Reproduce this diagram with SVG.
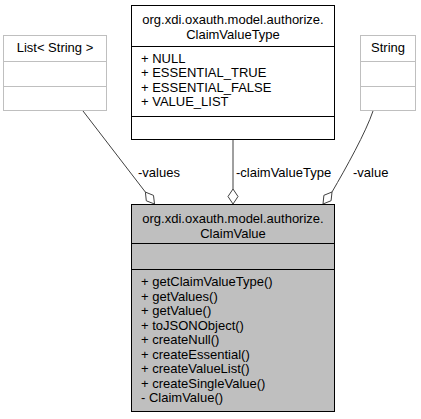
<svg xmlns="http://www.w3.org/2000/svg" width="421" height="419" viewBox="0 0 421 419">
<style>
text{font-family:"Liberation Sans",Arial,sans-serif;font-size:13px;fill:#000}
.c{text-anchor:middle}
.box{fill:#fff;stroke:#000;stroke-width:1}
.main{fill:#bfbfbf;stroke:#000;stroke-width:1}
.ext{fill:#fff;stroke:#bfbfbf;stroke-width:1}
.sep{stroke:#000;stroke-width:1}
.esep{stroke:#bfbfbf;stroke-width:1}
.edge{fill:none;stroke:#404040;stroke-width:1}
.dia{fill:#fff;stroke:#404040;stroke-width:1}
</style>
<rect width="421" height="419" fill="#fff"/>
<g id="edges">
<path class="edge" d="M83,111 L145.4,192.1"/>
<polygon class="dia" points="154.5,204 153.5,195.4 145.4,192.1 146.3,200.8"/>
<text x="138" y="176.5">-values</text>
<path class="edge" d="M233,140 L233,189"/>
<polygon class="dia" points="233,204 238,196.5 233,189 228,196.5"/>
<text x="236" y="176.5">-claimValueType</text>
<path class="edge" d="M373,111 C366,132 346,168 332,192"/>
<polygon class="dia" points="323,204 331.1,200.7 332,192 323.9,195.3"/>
<text x="353" y="176.5">-value</text>
</g>
<g id="ClaimValueType">
<rect class="box" x="131.5" y="5.5" width="203" height="134"/>
<line class="sep" x1="131.5" y1="46.5" x2="334.5" y2="46.5"/>
<line class="sep" x1="131.5" y1="116.5" x2="334.5" y2="116.5"/>
<text class="c" x="233" y="24">org.xdi.oxauth.model.authorize.</text>
<text class="c" x="233" y="38.5">ClaimValueType</text>
<text x="141" y="62.5">+ NULL</text>
<text x="141" y="77">+ ESSENTIAL_TRUE</text>
<text x="141" y="91.5">+ ESSENTIAL_FALSE</text>
<text x="141" y="106">+ VALUE_LIST</text>
</g>
<g id="ListString">
<rect class="ext" x="3.5" y="35.5" width="103" height="75"/>
<line class="esep" x1="3.5" y1="61.5" x2="106.5" y2="61.5"/>
<line class="esep" x1="3.5" y1="86.5" x2="106.5" y2="86.5"/>
<text class="c" x="55" y="51.5">List&lt; String &gt;</text>
</g>
<g id="String">
<rect class="ext" x="360.5" y="35.5" width="55" height="75"/>
<line class="esep" x1="360.5" y1="61.5" x2="415.5" y2="61.5"/>
<line class="esep" x1="360.5" y1="86.5" x2="415.5" y2="86.5"/>
<text class="c" x="388" y="51.5">String</text>
</g>
<g id="ClaimValue">
<rect class="main" x="131.5" y="204.5" width="203" height="207"/>
<line class="sep" x1="131.5" y1="243.5" x2="334.5" y2="243.5"/>
<line class="sep" x1="131.5" y1="269.5" x2="334.5" y2="269.5"/>
<text class="c" x="233" y="223">org.xdi.oxauth.model.authorize.</text>
<text class="c" x="233" y="237.5">ClaimValue</text>
<text x="141" y="286">+ getClaimValueType()</text>
<text x="141" y="300.5">+ getValues()</text>
<text x="141" y="315">+ getValue()</text>
<text x="141" y="329.5">+ toJSONObject()</text>
<text x="141" y="344">+ createNull()</text>
<text x="141" y="358.5">+ createEssential()</text>
<text x="141" y="373">+ createValueList()</text>
<text x="141" y="387.5">+ createSingleValue()</text>
<text x="141" y="402">- ClaimValue()</text>
</g>
</svg>
